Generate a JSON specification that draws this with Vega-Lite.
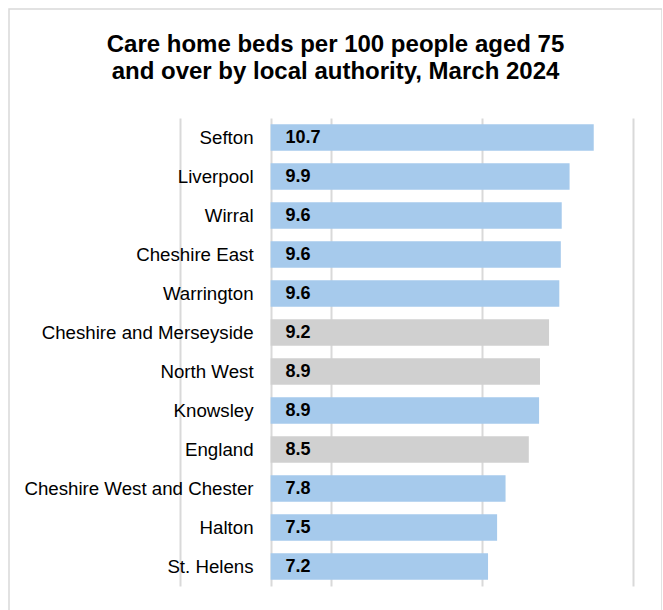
{
  "$schema": "https://vega.github.io/schema/vega-lite/v6.json",
  "autosize": {"type": "none"},
  "padding": {"left": 9, "top": 9, "right": 0, "bottom": 0},
  "width": 653,
  "height": 620,
  "background": "white",
  "config": {"view": {"stroke": "#d9d9d9", "strokeWidth": 1.5}, "font": "Liberation Sans"},
  "title": {
    "text": ["Care home beds per 100 people aged 75", "and over by local authority, March 2024"],
    "fontSize": 24,
    "fontWeight": "bold",
    "font": "Liberation Sans",
    "color": "#000000",
    "anchor": "middle",
    "baseline": "alphabetic",
    "lineHeight": 27,
    "offset": -94
  },
  "data": {
    "values": [
      {"name": "Sefton", "value": 10.7, "label": "10.7", "type": "local"},
      {"name": "Liverpool", "value": 9.9, "label": "9.9", "type": "local"},
      {"name": "Wirral", "value": 9.64, "label": "9.6", "type": "local"},
      {"name": "Cheshire East", "value": 9.61, "label": "9.6", "type": "local"},
      {"name": "Warrington", "value": 9.56, "label": "9.6", "type": "local"},
      {"name": "Cheshire and Merseyside", "value": 9.22, "label": "9.2", "type": "region"},
      {"name": "North West", "value": 8.92, "label": "8.9", "type": "region"},
      {"name": "Knowsley", "value": 8.89, "label": "8.9", "type": "local"},
      {"name": "England", "value": 8.55, "label": "8.5", "type": "region"},
      {"name": "Cheshire West and Chester", "value": 7.78, "label": "7.8", "type": "local"},
      {"name": "Halton", "value": 7.5, "label": "7.5", "type": "local"},
      {"name": "St. Helens", "value": 7.2, "label": "7.2", "type": "local"}
    ]
  },
  "encoding": {
    "y": {
      "field": "name",
      "type": "nominal",
      "sort": null,
      "scale": {
        "domain": ["Sefton", "Liverpool", "Wirral", "Cheshire East", "Warrington", "Cheshire and Merseyside", "North West", "Knowsley", "England", "Cheshire West and Chester", "Halton", "St. Helens"],
        "range": [109, 577],
        "paddingInner": 0,
        "paddingOuter": 0
      },
      "axis": null
    }
  },
  "layer": [
    {
      "mark": {"type": "bar", "height": {"band": 0.675}},
      "encoding": {
        "x": {
          "field": "value",
          "type": "quantitative",
          "scale": {"domain": [-3, 12], "range": [171, 624], "nice": false, "zero": false},
          "axis": {"orient": "top", "values": [-3, 0, 2, 7, 12], "grid": true, "gridColor": "#d9d9d9", "gridWidth": 2, "labels": false, "ticks": false, "domain": false, "title": null}
        },
        "x2": {"datum": 0},
        "color": {
          "field": "type",
          "type": "nominal",
          "scale": {"domain": ["local", "region"], "range": ["#a6caec", "#d0d0d0"]},
          "legend": null
        }
      }
    },
    {
      "mark": {"type": "text", "align": "left", "baseline": "middle", "dx": 15, "fontSize": 18, "fontWeight": "bold", "color": "#000000"},
      "encoding": {"x": {"datum": 0}, "text": {"field": "label"}}
    },
    {
      "mark": {"type": "text", "align": "right", "baseline": "middle", "dx": -17, "fontSize": 18.7, "color": "#000000"},
      "encoding": {"x": {"datum": 0}, "text": {"field": "name"}}
    }
  ]
}
